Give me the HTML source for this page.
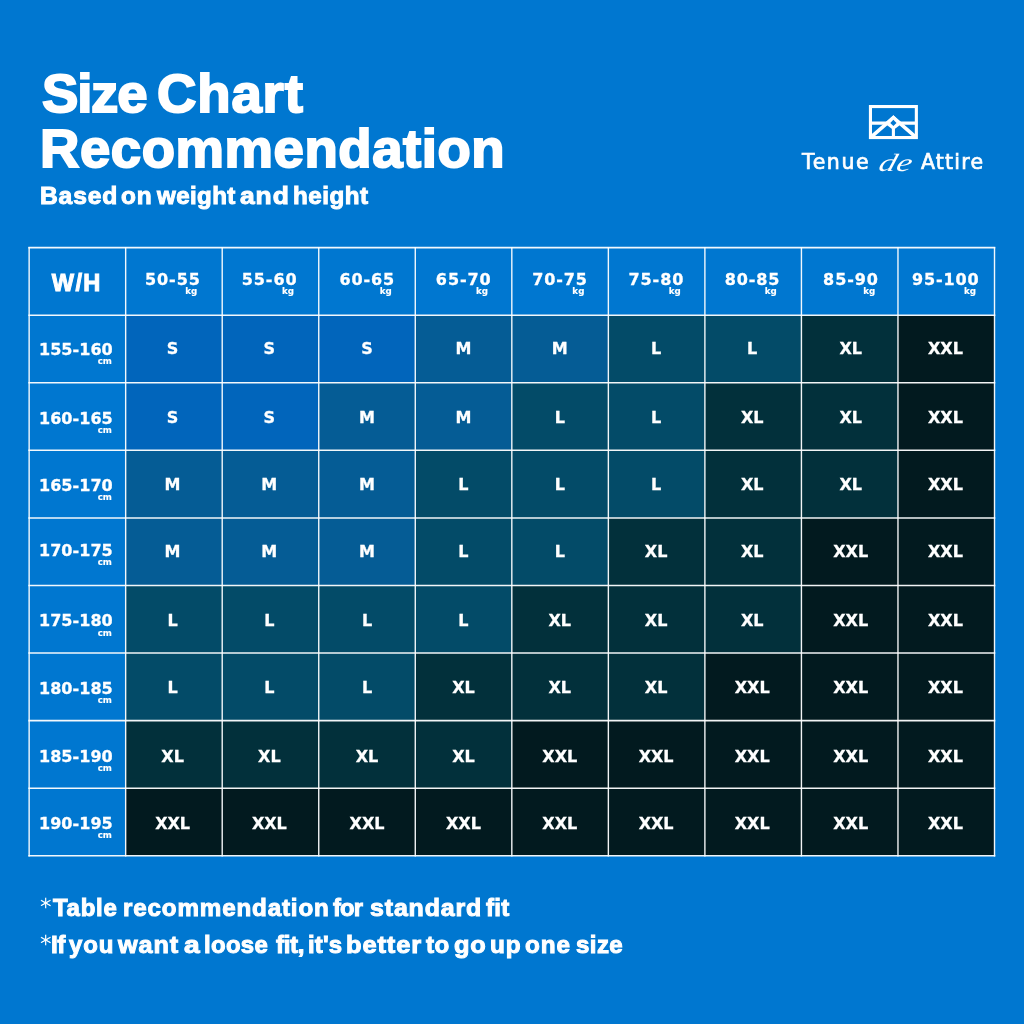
<!DOCTYPE html>
<html lang="en"><head><meta charset="utf-8"><title>Size Chart Recommendation</title>
<style>
html,body{margin:0;padding:0}
h1,p{margin:0;padding:0;font:inherit}
body{width:1024px;height:1024px;overflow:hidden;background:#0077d0;position:relative;color:#fff;
 font-family:"Liberation Sans",sans-serif;font-weight:bold}
.w{position:absolute;display:block;white-space:pre;line-height:1;-webkit-text-stroke-color:#fff}
.cell{position:absolute}
.lbl{position:absolute;white-space:nowrap;line-height:1;font-family:"DejaVu Sans",sans-serif;font-weight:bold;font-size:16px;text-align:center;-webkit-text-stroke:0.3px #fff}
.lw{position:relative;display:inline-block}
.unit{position:absolute;white-space:nowrap;line-height:1;font-size:8.7px;letter-spacing:0;-webkit-text-stroke:0.15px #fff}
.wh{position:absolute;white-space:nowrap;line-height:1;font-size:23.6px;text-align:center;letter-spacing:1.3px;-webkit-text-stroke:1px #fff}
.brand{position:absolute;white-space:nowrap;line-height:1;font-weight:normal;font-family:"DejaVu Sans",sans-serif;font-size:20.5px}
</style></head><body>
<h1><span class="w" id="t1_0" style="left:41.83px;top:67.27px;font-size:54.5px;letter-spacing:-1.232px;-webkit-text-stroke-width:2px;transform-origin:0 50%;transform:scaleX(1.0014)">Size</span>
<span class="w" id="t1_1" style="left:156.99px;top:67.27px;font-size:54.5px;letter-spacing:0.862px;-webkit-text-stroke-width:2px;transform-origin:0 50%;transform:scaleX(1.0001)">Chart</span>
<span class="w" id="t2_0" style="left:39.88px;top:121.87px;font-size:54.5px;letter-spacing:0.560px;-webkit-text-stroke-width:2px;transform-origin:0 50%;transform:scaleX(1.0001)">Recommendation</span>
</h1>
<p><span class="w" id="t3_0" style="left:39.52px;top:184.26px;font-size:24.2px;letter-spacing:0.847px;-webkit-text-stroke-width:1px;transform-origin:0 50%;transform:scaleX(1.0162)">Based</span>
<span class="w" id="t3_1" style="left:120.80px;top:184.26px;font-size:24.2px;letter-spacing:0.847px;-webkit-text-stroke-width:1px;transform-origin:0 50%;transform:scaleX(1.0085)">on</span>
<span class="w" id="t3_2" style="left:156.98px;top:184.26px;font-size:24.2px;letter-spacing:0.415px;-webkit-text-stroke-width:1px;transform-origin:0 50%;transform:scaleX(0.9965)">weight</span>
<span class="w" id="t3_3" style="left:240.27px;top:184.26px;font-size:24.2px;letter-spacing:0.847px;-webkit-text-stroke-width:1px;transform-origin:0 50%;transform:scaleX(1.0912)">and</span>
<span class="w" id="t3_4" style="left:292.56px;top:184.26px;font-size:24.2px;letter-spacing:0.534px;-webkit-text-stroke-width:1px;transform-origin:0 50%;transform:scaleX(0.9980)">height</span>
</p>
<p><span class="w" id="f1_0" style="left:40.36px;top:895.68px;font-size:24px;letter-spacing:0.000px;-webkit-text-stroke-width:1px;transform-origin:0 50%;transform:scaleX(1.0000);font-family:'DejaVu Sans',sans-serif;font-weight:200;-webkit-text-stroke-width:0.5px;font-size:22px;margin-top:0.00px">*</span><span class="w" id="f1_1" style="left:53.06px;top:895.68px;font-size:24px;letter-spacing:0.719px;-webkit-text-stroke-width:1px;transform-origin:0 50%;transform:scaleX(0.9998)">Table</span>
<span class="w" id="f1_2" style="left:122.74px;top:895.68px;font-size:24px;letter-spacing:0.840px;-webkit-text-stroke-width:1px;transform-origin:0 50%;transform:scaleX(1.0075)">recommendation</span>
<span class="w" id="f1_3" style="left:333.34px;top:895.68px;font-size:24px;letter-spacing:-0.840px;-webkit-text-stroke-width:1px;transform-origin:0 50%;transform:scaleX(0.9911)">for</span>
<span class="w" id="f1_4" style="left:369.87px;top:895.68px;font-size:24px;letter-spacing:0.840px;-webkit-text-stroke-width:1px;transform-origin:0 50%;transform:scaleX(1.0378)">standard</span>
<span class="w" id="f1_5" style="left:486.19px;top:895.68px;font-size:24px;letter-spacing:0.283px;-webkit-text-stroke-width:1px;transform-origin:0 50%;transform:scaleX(0.9992)">fit</span>
</p>
<p><span class="w" id="f2_0" style="left:40.36px;top:932.58px;font-size:24px;letter-spacing:0.000px;-webkit-text-stroke-width:1px;transform-origin:0 50%;transform:scaleX(1.0000);font-family:'DejaVu Sans',sans-serif;font-weight:200;-webkit-text-stroke-width:0.5px;font-size:22px;margin-top:0.00px">*</span><span class="w" id="f2_1" style="left:51.19px;top:932.58px;font-size:24px;letter-spacing:-0.630px;-webkit-text-stroke-width:1px;transform-origin:0 50%;transform:scaleX(1.0166)">If</span>
<span class="w" id="f2_2" style="left:68.98px;top:932.58px;font-size:24px;letter-spacing:0.840px;-webkit-text-stroke-width:1px;transform-origin:0 50%;transform:scaleX(0.9987)">you</span>
<span class="w" id="f2_3" style="left:118.49px;top:932.58px;font-size:24px;letter-spacing:0.840px;-webkit-text-stroke-width:1px;transform-origin:0 50%;transform:scaleX(1.0506)">want</span>
<span class="w" id="f2_4" style="left:184.33px;top:932.58px;font-size:24px;letter-spacing:0.000px;-webkit-text-stroke-width:1px;transform-origin:0 50%;transform:scaleX(1.1712)">a</span>
<span class="w" id="f2_5" style="left:204.40px;top:932.58px;font-size:24px;letter-spacing:0.325px;-webkit-text-stroke-width:1px;transform-origin:0 50%;transform:scaleX(0.9967)">loose</span>
<span class="w" id="f2_6" style="left:275.76px;top:932.58px;font-size:24px;letter-spacing:-0.399px;-webkit-text-stroke-width:1px;transform-origin:0 50%;transform:scaleX(1.0081)">fit,</span>
<span class="w" id="f2_7" style="left:308.00px;top:932.58px;font-size:24px;letter-spacing:0.173px;-webkit-text-stroke-width:1px;transform-origin:0 50%;transform:scaleX(0.9985)">it's</span>
<span class="w" id="f2_8" style="left:345.54px;top:932.58px;font-size:24px;letter-spacing:0.840px;-webkit-text-stroke-width:1px;transform-origin:0 50%;transform:scaleX(1.0600)">better</span>
<span class="w" id="f2_9" style="left:425.50px;top:932.58px;font-size:24px;letter-spacing:0.562px;-webkit-text-stroke-width:1px;transform-origin:0 50%;transform:scaleX(1.0054)">to</span>
<span class="w" id="f2_10" style="left:454.22px;top:932.58px;font-size:24px;letter-spacing:0.840px;-webkit-text-stroke-width:1px;transform-origin:0 50%;transform:scaleX(1.0554)">go</span>
<span class="w" id="f2_11" style="left:489.67px;top:932.58px;font-size:24px;letter-spacing:0.840px;-webkit-text-stroke-width:1px;transform-origin:0 50%;transform:scaleX(1.0123)">up</span>
<span class="w" id="f2_12" style="left:525.12px;top:932.58px;font-size:24px;letter-spacing:0.840px;-webkit-text-stroke-width:1px;transform-origin:0 50%;transform:scaleX(1.0121)">one</span>
<span class="w" id="f2_13" style="left:575.59px;top:932.58px;font-size:24px;letter-spacing:0.435px;-webkit-text-stroke-width:1px;transform-origin:0 50%;transform:scaleX(1.0013)">size</span>
</p>
<svg style="position:absolute;left:862px;top:98px" width="64" height="48" viewBox="862 98 64 48">
<g fill="none" stroke="#fff">
<rect x="870.45" y="106.55" width="45.9" height="31" stroke-width="3.1"/>
<path d="M870.45 123.1 H916.35" stroke-width="3.2"/>
<path d="M870.45 137.55 L893.4 117.6 L916.35 137.55" stroke-width="3.6" stroke-linejoin="miter"/>
<path d="M893.4 126 V137.5" stroke-width="3.1"/>
</g>
<path d="M893.4 115.2 L884.8 123.6 L893.4 129.9 L902 123.6 Z" fill="#fff"/>
<path d="M893.4 119.7 L890.3 122.9 L893.4 126.1 L896.5 122.9 Z" fill="#0077d0"/>
</svg>
<div class="brand" style="left:802px;top:152px;letter-spacing:1.6px;-webkit-text-stroke:0.7px #fff">Tenue</div>
<div class="brand" style="left:880px;top:149.5px;font-family:'Liberation Serif',serif;font-style:italic;font-size:25px;letter-spacing:0.5px;transform-origin:0 50%;transform:scaleX(1.35) skewX(-12deg)">de</div>
<div class="brand" style="left:921px;top:152px;letter-spacing:1.2px;-webkit-text-stroke:0.7px #fff">Attire</div>
<svg style="position:absolute;left:0;top:0" width="1024" height="1024" viewBox="0 0 1024 1024">
<rect x="125.67" y="315.18" width="96.54" height="67.58" fill="#0165bb"/>
<rect x="222.21" y="315.18" width="96.54" height="67.58" fill="#0165bb"/>
<rect x="318.75" y="315.18" width="96.54" height="67.58" fill="#0165bb"/>
<rect x="415.28" y="315.18" width="96.54" height="67.58" fill="#055c95"/>
<rect x="511.82" y="315.18" width="96.54" height="67.58" fill="#055c95"/>
<rect x="608.36" y="315.18" width="96.54" height="67.58" fill="#034b68"/>
<rect x="704.89" y="315.18" width="96.54" height="67.58" fill="#034b68"/>
<rect x="801.43" y="315.18" width="96.54" height="67.58" fill="#02303b"/>
<rect x="897.97" y="315.18" width="96.54" height="67.58" fill="#021a1f"/>
<rect x="125.67" y="382.75" width="96.54" height="67.58" fill="#0165bb"/>
<rect x="222.21" y="382.75" width="96.54" height="67.58" fill="#0165bb"/>
<rect x="318.75" y="382.75" width="96.54" height="67.58" fill="#055c95"/>
<rect x="415.28" y="382.75" width="96.54" height="67.58" fill="#055c95"/>
<rect x="511.82" y="382.75" width="96.54" height="67.58" fill="#034b68"/>
<rect x="608.36" y="382.75" width="96.54" height="67.58" fill="#034b68"/>
<rect x="704.89" y="382.75" width="96.54" height="67.58" fill="#02303b"/>
<rect x="801.43" y="382.75" width="96.54" height="67.58" fill="#02303b"/>
<rect x="897.97" y="382.75" width="96.54" height="67.58" fill="#021a1f"/>
<rect x="125.67" y="450.33" width="96.54" height="67.58" fill="#055c95"/>
<rect x="222.21" y="450.33" width="96.54" height="67.58" fill="#055c95"/>
<rect x="318.75" y="450.33" width="96.54" height="67.58" fill="#055c95"/>
<rect x="415.28" y="450.33" width="96.54" height="67.58" fill="#034b68"/>
<rect x="511.82" y="450.33" width="96.54" height="67.58" fill="#034b68"/>
<rect x="608.36" y="450.33" width="96.54" height="67.58" fill="#034b68"/>
<rect x="704.89" y="450.33" width="96.54" height="67.58" fill="#02303b"/>
<rect x="801.43" y="450.33" width="96.54" height="67.58" fill="#02303b"/>
<rect x="897.97" y="450.33" width="96.54" height="67.58" fill="#021a1f"/>
<rect x="125.67" y="517.90" width="96.54" height="67.58" fill="#055c95"/>
<rect x="222.21" y="517.90" width="96.54" height="67.58" fill="#055c95"/>
<rect x="318.75" y="517.90" width="96.54" height="67.58" fill="#055c95"/>
<rect x="415.28" y="517.90" width="96.54" height="67.58" fill="#034b68"/>
<rect x="511.82" y="517.90" width="96.54" height="67.58" fill="#034b68"/>
<rect x="608.36" y="517.90" width="96.54" height="67.58" fill="#02303b"/>
<rect x="704.89" y="517.90" width="96.54" height="67.58" fill="#02303b"/>
<rect x="801.43" y="517.90" width="96.54" height="67.58" fill="#021a1f"/>
<rect x="897.97" y="517.90" width="96.54" height="67.58" fill="#021a1f"/>
<rect x="125.67" y="585.48" width="96.54" height="67.58" fill="#034b68"/>
<rect x="222.21" y="585.48" width="96.54" height="67.58" fill="#034b68"/>
<rect x="318.75" y="585.48" width="96.54" height="67.58" fill="#034b68"/>
<rect x="415.28" y="585.48" width="96.54" height="67.58" fill="#034b68"/>
<rect x="511.82" y="585.48" width="96.54" height="67.58" fill="#02303b"/>
<rect x="608.36" y="585.48" width="96.54" height="67.58" fill="#02303b"/>
<rect x="704.89" y="585.48" width="96.54" height="67.58" fill="#02303b"/>
<rect x="801.43" y="585.48" width="96.54" height="67.58" fill="#021a1f"/>
<rect x="897.97" y="585.48" width="96.54" height="67.58" fill="#021a1f"/>
<rect x="125.67" y="653.06" width="96.54" height="67.58" fill="#034b68"/>
<rect x="222.21" y="653.06" width="96.54" height="67.58" fill="#034b68"/>
<rect x="318.75" y="653.06" width="96.54" height="67.58" fill="#034b68"/>
<rect x="415.28" y="653.06" width="96.54" height="67.58" fill="#02303b"/>
<rect x="511.82" y="653.06" width="96.54" height="67.58" fill="#02303b"/>
<rect x="608.36" y="653.06" width="96.54" height="67.58" fill="#02303b"/>
<rect x="704.89" y="653.06" width="96.54" height="67.58" fill="#021a1f"/>
<rect x="801.43" y="653.06" width="96.54" height="67.58" fill="#021a1f"/>
<rect x="897.97" y="653.06" width="96.54" height="67.58" fill="#021a1f"/>
<rect x="125.67" y="720.63" width="96.54" height="67.58" fill="#02303b"/>
<rect x="222.21" y="720.63" width="96.54" height="67.58" fill="#02303b"/>
<rect x="318.75" y="720.63" width="96.54" height="67.58" fill="#02303b"/>
<rect x="415.28" y="720.63" width="96.54" height="67.58" fill="#02303b"/>
<rect x="511.82" y="720.63" width="96.54" height="67.58" fill="#021a1f"/>
<rect x="608.36" y="720.63" width="96.54" height="67.58" fill="#021a1f"/>
<rect x="704.89" y="720.63" width="96.54" height="67.58" fill="#021a1f"/>
<rect x="801.43" y="720.63" width="96.54" height="67.58" fill="#021a1f"/>
<rect x="897.97" y="720.63" width="96.54" height="67.58" fill="#021a1f"/>
<rect x="125.67" y="788.21" width="96.54" height="67.58" fill="#021a1f"/>
<rect x="222.21" y="788.21" width="96.54" height="67.58" fill="#021a1f"/>
<rect x="318.75" y="788.21" width="96.54" height="67.58" fill="#021a1f"/>
<rect x="415.28" y="788.21" width="96.54" height="67.58" fill="#021a1f"/>
<rect x="511.82" y="788.21" width="96.54" height="67.58" fill="#021a1f"/>
<rect x="608.36" y="788.21" width="96.54" height="67.58" fill="#021a1f"/>
<rect x="704.89" y="788.21" width="96.54" height="67.58" fill="#021a1f"/>
<rect x="801.43" y="788.21" width="96.54" height="67.58" fill="#021a1f"/>
<rect x="897.97" y="788.21" width="96.54" height="67.58" fill="#021a1f"/>
<g stroke="#fff" stroke-opacity="0.95" stroke-width="1.4" stroke-linecap="square">
<line x1="29.14" y1="247.60" x2="29.14" y2="855.78"/>
<line x1="125.67" y1="247.60" x2="125.67" y2="855.78"/>
<line x1="222.21" y1="247.60" x2="222.21" y2="855.78"/>
<line x1="318.75" y1="247.60" x2="318.75" y2="855.78"/>
<line x1="415.28" y1="247.60" x2="415.28" y2="855.78"/>
<line x1="511.82" y1="247.60" x2="511.82" y2="855.78"/>
<line x1="608.36" y1="247.60" x2="608.36" y2="855.78"/>
<line x1="704.89" y1="247.60" x2="704.89" y2="855.78"/>
<line x1="801.43" y1="247.60" x2="801.43" y2="855.78"/>
<line x1="897.97" y1="247.60" x2="897.97" y2="855.78"/>
<line x1="994.51" y1="247.60" x2="994.51" y2="855.78"/>
<line x1="29.14" y1="247.60" x2="994.51" y2="247.60" stroke-width="1.55"/>
<line x1="29.14" y1="315.18" x2="994.51" y2="315.18" stroke-width="1.55"/>
<line x1="29.14" y1="382.75" x2="994.51" y2="382.75" stroke-width="1.55"/>
<line x1="29.14" y1="450.33" x2="994.51" y2="450.33" stroke-width="1.55"/>
<line x1="29.14" y1="517.90" x2="994.51" y2="517.90" stroke-width="1.55"/>
<line x1="29.14" y1="585.48" x2="994.51" y2="585.48" stroke-width="1.55"/>
<line x1="29.14" y1="653.06" x2="994.51" y2="653.06" stroke-width="1.55"/>
<line x1="29.14" y1="720.63" x2="994.51" y2="720.63" stroke-width="1.55"/>
<line x1="29.14" y1="788.21" x2="994.51" y2="788.21" stroke-width="1.55"/>
<line x1="29.14" y1="855.78" x2="994.51" y2="855.78" stroke-width="1.55"/>
</g></svg>
<div class="wh" style="left:28.44px;top:271.60px;width:96.54px">W/H</div>
<div class="lbl" style="left:124.62px;top:272.00px;width:96.54px;letter-spacing:0.9px"><span class="lw">50-55<span class="unit" style="right:3.5px;top:15.1px">kg</span></span></div>
<div class="lbl" style="left:221.36px;top:272.00px;width:96.54px;letter-spacing:0.9px"><span class="lw">55-60<span class="unit" style="right:3.5px;top:15.1px">kg</span></span></div>
<div class="lbl" style="left:319.05px;top:272.00px;width:96.54px;letter-spacing:0.9px"><span class="lw">60-65<span class="unit" style="right:3.5px;top:15.1px">kg</span></span></div>
<div class="lbl" style="left:415.43px;top:272.00px;width:96.54px;letter-spacing:0.9px"><span class="lw">65-70<span class="unit" style="right:3.5px;top:15.1px">kg</span></span></div>
<div class="lbl" style="left:511.77px;top:272.00px;width:96.54px;letter-spacing:0.9px"><span class="lw">70-75<span class="unit" style="right:3.5px;top:15.1px">kg</span></span></div>
<div class="lbl" style="left:608.11px;top:272.00px;width:96.54px;letter-spacing:0.9px"><span class="lw">75-80<span class="unit" style="right:3.5px;top:15.1px">kg</span></span></div>
<div class="lbl" style="left:704.24px;top:272.00px;width:96.54px;letter-spacing:0.9px"><span class="lw">80-85<span class="unit" style="right:3.5px;top:15.1px">kg</span></span></div>
<div class="lbl" style="left:802.68px;top:272.00px;width:96.54px;letter-spacing:0.9px"><span class="lw">85-90<span class="unit" style="right:3.5px;top:15.1px">kg</span></span></div>
<div class="lbl" style="left:897.47px;top:272.00px;width:96.54px;letter-spacing:0.9px"><span class="lw">95-100<span class="unit" style="right:3.5px;top:15.1px">kg</span></span></div>
<div class="lbl" style="left:27.64px;top:342.21px;width:96.54px;letter-spacing:0.05px"><span class="lw">155-160<span class="unit" style="right:0.9px;top:15.1px">cm</span></span></div>
<div class="lbl" style="left:27.64px;top:410.84px;width:96.54px;letter-spacing:0.05px"><span class="lw">160-165<span class="unit" style="right:0.9px;top:15.1px">cm</span></span></div>
<div class="lbl" style="left:27.64px;top:477.92px;width:96.54px;letter-spacing:0.05px"><span class="lw">165-170<span class="unit" style="right:0.9px;top:15.1px">cm</span></span></div>
<div class="lbl" style="left:27.64px;top:542.99px;width:96.54px;letter-spacing:0.05px"><span class="lw">170-175<span class="unit" style="right:0.9px;top:15.1px">cm</span></span></div>
<div class="lbl" style="left:27.64px;top:613.47px;width:96.54px;letter-spacing:0.05px"><span class="lw">175-180<span class="unit" style="right:0.9px;top:15.1px">cm</span></span></div>
<div class="lbl" style="left:27.64px;top:680.74px;width:96.54px;letter-spacing:0.05px"><span class="lw">180-185<span class="unit" style="right:0.9px;top:15.1px">cm</span></span></div>
<div class="lbl" style="left:27.64px;top:749.02px;width:96.54px;letter-spacing:0.05px"><span class="lw">185-190<span class="unit" style="right:0.9px;top:15.1px">cm</span></span></div>
<div class="lbl" style="left:27.64px;top:815.90px;width:96.54px;letter-spacing:0.05px"><span class="lw">190-195<span class="unit" style="right:0.9px;top:15.1px">cm</span></span></div>
<div class="lbl" style="left:124.32px;top:341.16px;width:96.54px">S</div>
<div class="lbl" style="left:221.06px;top:341.16px;width:96.54px">S</div>
<div class="lbl" style="left:318.75px;top:341.16px;width:96.54px">S</div>
<div class="lbl" style="left:415.13px;top:341.16px;width:96.54px">M</div>
<div class="lbl" style="left:511.47px;top:341.16px;width:96.54px">M</div>
<div class="lbl" style="left:607.81px;top:341.16px;width:96.54px">L</div>
<div class="lbl" style="left:703.94px;top:341.16px;width:96.54px">L</div>
<div class="lbl" style="left:802.38px;top:341.16px;width:96.54px">XL</div>
<div class="lbl" style="left:897.17px;top:341.16px;width:96.54px">XXL</div>
<div class="lbl" style="left:124.32px;top:409.94px;width:96.54px">S</div>
<div class="lbl" style="left:221.06px;top:409.94px;width:96.54px">S</div>
<div class="lbl" style="left:318.75px;top:409.94px;width:96.54px">M</div>
<div class="lbl" style="left:415.13px;top:409.94px;width:96.54px">M</div>
<div class="lbl" style="left:511.47px;top:409.94px;width:96.54px">L</div>
<div class="lbl" style="left:607.81px;top:409.94px;width:96.54px">L</div>
<div class="lbl" style="left:703.94px;top:409.94px;width:96.54px">XL</div>
<div class="lbl" style="left:802.38px;top:409.94px;width:96.54px">XL</div>
<div class="lbl" style="left:897.17px;top:409.94px;width:96.54px">XXL</div>
<div class="lbl" style="left:124.32px;top:477.42px;width:96.54px">M</div>
<div class="lbl" style="left:221.06px;top:477.42px;width:96.54px">M</div>
<div class="lbl" style="left:318.75px;top:477.42px;width:96.54px">M</div>
<div class="lbl" style="left:415.13px;top:477.42px;width:96.54px">L</div>
<div class="lbl" style="left:511.47px;top:477.42px;width:96.54px">L</div>
<div class="lbl" style="left:607.81px;top:477.42px;width:96.54px">L</div>
<div class="lbl" style="left:703.94px;top:477.42px;width:96.54px">XL</div>
<div class="lbl" style="left:802.38px;top:477.42px;width:96.54px">XL</div>
<div class="lbl" style="left:897.17px;top:477.42px;width:96.54px">XXL</div>
<div class="lbl" style="left:124.32px;top:544.29px;width:96.54px">M</div>
<div class="lbl" style="left:221.06px;top:544.29px;width:96.54px">M</div>
<div class="lbl" style="left:318.75px;top:544.29px;width:96.54px">M</div>
<div class="lbl" style="left:415.13px;top:544.29px;width:96.54px">L</div>
<div class="lbl" style="left:511.47px;top:544.29px;width:96.54px">L</div>
<div class="lbl" style="left:607.81px;top:544.29px;width:96.54px">XL</div>
<div class="lbl" style="left:703.94px;top:544.29px;width:96.54px">XL</div>
<div class="lbl" style="left:802.38px;top:544.29px;width:96.54px">XXL</div>
<div class="lbl" style="left:897.17px;top:544.29px;width:96.54px">XXL</div>
<div class="lbl" style="left:124.32px;top:612.67px;width:96.54px">L</div>
<div class="lbl" style="left:221.06px;top:612.67px;width:96.54px">L</div>
<div class="lbl" style="left:318.75px;top:612.67px;width:96.54px">L</div>
<div class="lbl" style="left:415.13px;top:612.67px;width:96.54px">L</div>
<div class="lbl" style="left:511.47px;top:612.67px;width:96.54px">XL</div>
<div class="lbl" style="left:607.81px;top:612.67px;width:96.54px">XL</div>
<div class="lbl" style="left:703.94px;top:612.67px;width:96.54px">XL</div>
<div class="lbl" style="left:802.38px;top:612.67px;width:96.54px">XXL</div>
<div class="lbl" style="left:897.17px;top:612.67px;width:96.54px">XXL</div>
<div class="lbl" style="left:124.32px;top:679.84px;width:96.54px">L</div>
<div class="lbl" style="left:221.06px;top:679.84px;width:96.54px">L</div>
<div class="lbl" style="left:318.75px;top:679.84px;width:96.54px">L</div>
<div class="lbl" style="left:415.13px;top:679.84px;width:96.54px">XL</div>
<div class="lbl" style="left:511.47px;top:679.84px;width:96.54px">XL</div>
<div class="lbl" style="left:607.81px;top:679.84px;width:96.54px">XL</div>
<div class="lbl" style="left:703.94px;top:679.84px;width:96.54px">XXL</div>
<div class="lbl" style="left:802.38px;top:679.84px;width:96.54px">XXL</div>
<div class="lbl" style="left:897.17px;top:679.84px;width:96.54px">XXL</div>
<div class="lbl" style="left:124.32px;top:748.72px;width:96.54px">XL</div>
<div class="lbl" style="left:221.06px;top:748.72px;width:96.54px">XL</div>
<div class="lbl" style="left:318.75px;top:748.72px;width:96.54px">XL</div>
<div class="lbl" style="left:415.13px;top:748.72px;width:96.54px">XL</div>
<div class="lbl" style="left:511.47px;top:748.72px;width:96.54px">XXL</div>
<div class="lbl" style="left:607.81px;top:748.72px;width:96.54px">XXL</div>
<div class="lbl" style="left:703.94px;top:748.72px;width:96.54px">XXL</div>
<div class="lbl" style="left:802.38px;top:748.72px;width:96.54px">XXL</div>
<div class="lbl" style="left:897.17px;top:748.72px;width:96.54px">XXL</div>
<div class="lbl" style="left:124.32px;top:815.80px;width:96.54px">XXL</div>
<div class="lbl" style="left:221.06px;top:815.80px;width:96.54px">XXL</div>
<div class="lbl" style="left:318.75px;top:815.80px;width:96.54px">XXL</div>
<div class="lbl" style="left:415.13px;top:815.80px;width:96.54px">XXL</div>
<div class="lbl" style="left:511.47px;top:815.80px;width:96.54px">XXL</div>
<div class="lbl" style="left:607.81px;top:815.80px;width:96.54px">XXL</div>
<div class="lbl" style="left:703.94px;top:815.80px;width:96.54px">XXL</div>
<div class="lbl" style="left:802.38px;top:815.80px;width:96.54px">XXL</div>
<div class="lbl" style="left:897.17px;top:815.80px;width:96.54px">XXL</div>
</body></html>
